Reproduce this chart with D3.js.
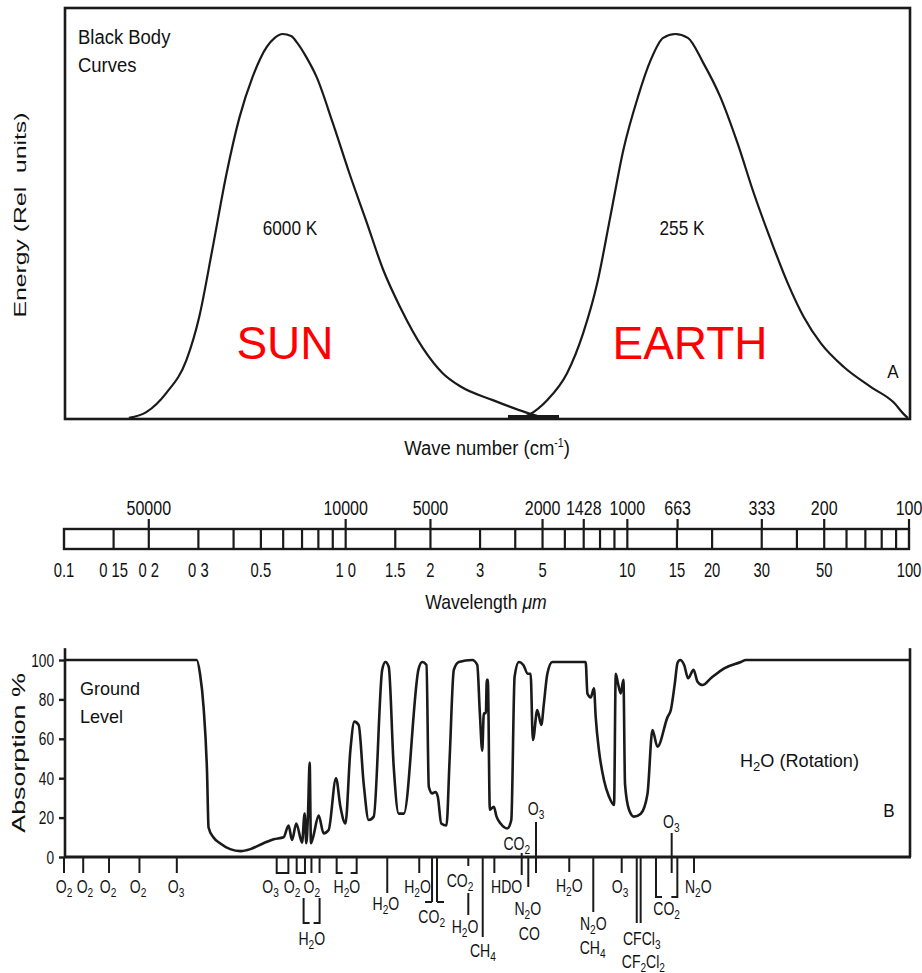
<!DOCTYPE html>
<html>
<head>
<meta charset="utf-8">
<script src="https://cdn.jsdelivr.net/npm/d3@7"></script>
<style>
  body { margin: 0; background: #fff; }
  svg text { font-family: "Liberation Sans", Arial, Helvetica, sans-serif; fill: #111; }
</style>
</head>
<body>
<svg id="chart" width="922" height="973"></svg>
<script>
// ---- data (wavelengths in micrometres) ----
// black body curves, relative energy (peak = 1)
var sunWl       = [0.170, 0.196, 0.231, 0.272, 0.302, 0.336, 0.378, 0.420, 0.467, 0.524, 0.560, 0.597, 0.640, 0.670, 0.725, 0.789, 0.900, 1.03, 1.19, 1.36, 1.56, 1.88, 2.21, 2.55, 3.33, 4.41, 5.0];
var sunEnergy   = [0.003, 0.018, 0.068, 0.153, 0.265, 0.439, 0.639, 0.784, 0.888, 0.966, 0.990, 1.000, 0.995, 0.979, 0.940, 0.888, 0.769, 0.639, 0.509, 0.387, 0.291, 0.184, 0.119, 0.085, 0.049, 0.016, 0.004];
var earthWl     = [4.1, 4.5, 5.19, 6.11, 6.97, 7.82, 8.70, 9.68, 10.9, 12.1, 13.4, 14.8, 16.4, 18.6, 21.4, 24.6, 28.1, 32.3, 37.1, 42.3, 48.6, 58.7, 73.3, 88.5, 96.0, 99.0];
var earthEnergy = [0, 0.012, 0.049, 0.119, 0.223, 0.353, 0.525, 0.699, 0.836, 0.932, 0.990, 1.000, 0.990, 0.925, 0.836, 0.717, 0.587, 0.465, 0.353, 0.265, 0.197, 0.135, 0.083, 0.042, 0.012, 0.003];
var overlapBand = [3.77, 5.72];

// scale bar
var wavenumberTicks = [50000, 10000, 5000, 2000, 1428, 1000, 663, 333, 200, 100];
var wlTickValues = [0.1, 0.15, 0.2, 0.3, 0.5, 1, 1.5, 2, 3, 5, 10, 15, 20, 30, 50, 100];
var wlTickLabels = ["0.1", "0 15", "0 2", "0 3", "0.5", "1 0", "1.5", "2", "3", "5", "10", "15", "20", "30", "50", "100"];
var wlDividers = [0.15, 0.2, 0.3, 0.4, 0.5, 0.6, 0.7, 0.8, 0.9, 1, 1.5, 2, 3, 4, 5, 6, 7, 8, 9, 10, 15, 20, 30, 40, 50, 60, 70, 80, 90];

// atmospheric absorption at ground level (%)
var absWl  = [0.1, 0.296, 0.304, 0.313, 0.322, 0.326, 0.339, 0.358, 0.389, 0.423, 0.459, 0.511, 0.555, 0.602, 0.627, 0.645, 0.668, 0.700, 0.715, 0.725, 0.735, 0.745, 0.753, 0.766, 0.802, 0.835, 0.870, 0.924, 0.958, 0.998, 1.039, 1.074, 1.112, 1.159, 1.207, 1.258, 1.348, 1.384, 1.422, 1.481, 1.543, 1.608, 1.817, 1.869, 1.936, 1.973, 2.028, 2.084, 2.124, 2.184, 2.28, 2.338, 2.421, 2.522, 2.814, 2.932, 2.995, 3.054, 3.094, 3.146, 3.17, 3.197, 3.250, 3.358, 3.433, 3.548, 3.748, 3.873, 3.979, 4.121, 4.272, 4.436, 4.535, 4.621, 4.790, 4.949, 5.056, 5.200, 5.416, 7.114, 7.215, 7.412, 7.614, 7.722, 7.932, 8.263, 8.610, 8.970, 9.097, 9.268, 9.474, 9.685, 9.813, 10.14, 10.56, 11.16, 11.79, 12.28, 12.79, 13.89, 14.27, 14.74, 15.07, 15.39, 15.91, 16.44, 17.18, 17.75, 18.49, 19.79, 22.07, 25.31, 26.37, 100];
var absPct = [100, 100, 93, 76, 43, 15, 10, 7, 4, 3, 4, 7, 9, 10, 16, 8.6, 17, 7.3, 22, 7, 22, 48, 7, 10, 21, 12, 13.7, 40, 25.5, 17, 54, 68.7, 67, 37, 18.8, 20.5, 95, 99, 96.6, 45.8, 22, 22, 95.8, 99, 97.5, 35.7, 32.3, 33, 30.6, 17, 16, 49, 95, 99, 100, 97.5, 73, 54, 73, 73, 90, 90, 24, 25.5, 20.5, 17, 14.5, 18.8, 91.5, 99, 97.5, 93, 93, 59.4, 74.6, 67, 78, 93, 99, 99, 83, 81, 85.6, 71, 54, 39, 30.6, 26.4, 93, 88, 83, 90, 37, 24, 20.5, 22, 32, 64.5, 56, 71, 74.6, 88, 98.5, 100, 97.5, 90.7, 95, 89, 87.3, 90.7, 95.8, 99, 100, 100];
var pctTicks = [0, 20, 40, 60, 80, 100];

// absorbing gases: [name, wavelength]
var gasNames = ["O2", "O2", "O2", "O2", "O3", "O3", "O2", "O2", "H2O", "H2O", "H2O", "H2O", "CO2", "CO2", "H2O", "CH4", "HDO", "CO2", "N2O", "CO", "O3", "H2O", "N2O", "CH4", "O3", "CFCl3", "CF2Cl2", "CO2", "O3", "N2O"];
var gasWl    = [0.1, 0.1187, 0.1433, 0.1831, 0.2498, 0.541, 0.645, 0.758, 0.758, 1.01, 1.39, 1.80, 2.02, 2.546, 2.652, 3.07, 3.73, 4.05, 4.43, 4.49, 4.74, 6.22, 7.57, 7.53, 9.42, 11.25, 11.4, 13.79, 14.33, 17.86];

// ---- layout ----
var svg = d3.select('#chart');
var x = d3.scaleLog().domain([0.1, 100]).range([64, 909]);
var yE = d3.scaleLinear().domain([0, 1]).range([419, 34]);
var yA = d3.scaleLinear().domain([0, 100]).range([857, 660]);
var ink = '#1a1a1a';

function label(px, py, str, o) {
  o = o || {};
  var size = o.size || 18,
      tr = 'translate(' + px + ',' + py + ')';
  if (o.rotate) tr += ' rotate(' + o.rotate + ')';
  tr += ' scale(' + (o.sx || 1) + ',1)';
  var t = svg.append('text')
    .attr('transform', tr)
    .attr('text-anchor', o.anchor || 'middle')
    .style('font-size', size + 'px')
    .style('white-space', 'pre');
  if (o.fill) t.style('fill', o.fill);
  if (o.chem) {
    var shift = 0;
    str.split(/(\d+)/).forEach(function(s) {
      if (!s) return;
      var isSub = /^\d+$/.test(s),
          dy = (isSub ? size * 0.22 : 0) - shift;
      shift += dy;
      t.append('tspan').attr('dy', dy)
        .style('font-size', isSub ? (size * 0.72) + 'px' : null)
        .text(s);
    });
  } else {
    t.text(str);
  }
  return t;
}

function vline(g, px, ya, yb, w) {
  g.append('line').attr('x1', px).attr('x2', px).attr('y1', ya).attr('y2', yb)
    .attr('stroke', ink).attr('stroke-width', w || 2);
}

// ---- panel A: black body curves ----
var gA = svg.append('g');
gA.append('rect')
  .attr('x', x(0.1) + 1).attr('y', 8)
  .attr('width', x(100) - x(0.1)).attr('height', yE(0) - 8)
  .attr('fill', 'none').attr('stroke', ink).attr('stroke-width', 2.6);

var energyLine = d3.line()
  .x(function(d) { return x(d[0]); })
  .y(function(d) { return yE(d[1]); })
  .curve(d3.curveMonotoneX);

[d3.zip(sunWl, sunEnergy), d3.zip(earthWl, earthEnergy)].forEach(function(series) {
  gA.append('path').datum(series).attr('d', energyLine)
    .attr('fill', 'none').attr('stroke', ink).attr('stroke-width', 2.2)
    .attr('stroke-linejoin', 'round');
});

gA.append('rect')
  .attr('x', x(overlapBand[0])).attr('y', yE(0) - 4)
  .attr('width', x(overlapBand[1]) - x(overlapBand[0])).attr('height', 4)
  .attr('fill', ink);

label(78, 44, 'Black Body', {size: 21, sx: 0.88, anchor: 'start'});
label(78, 72, 'Curves', {size: 21, sx: 0.88, anchor: 'start'});
label(290, 235, '6000 K', {size: 21, sx: 0.82});
label(682, 235, '255 K', {size: 21, sx: 0.82});
label(285, 359, 'SUN', {size: 46, fill: '#ff0000'});
label(690, 359, 'EARTH', {size: 46, fill: '#ff0000'});
label(893, 378, 'A', {size: 19, sx: 0.9});
label(26, 215, 'Energy (Rel  units)', {size: 16.5, sx: 1.5, rotate: -90});

var wn = svg.append('text')
  .attr('transform', 'translate(487,455) scale(0.88,1)')
  .attr('text-anchor', 'middle').style('font-size', '21px');
wn.append('tspan').text('Wave number (cm');
wn.append('tspan').attr('dy', -8).style('font-size', '12px').text('-1');
wn.append('tspan').attr('dy', 8).text(')');

// ---- scale bar ----
var gS = svg.append('g');
var barTop = 529, barBot = 549;
gS.append('rect')
  .attr('x', x(0.1)).attr('y', barTop)
  .attr('width', x(100) - x(0.1)).attr('height', barBot - barTop)
  .attr('fill', 'none').attr('stroke', ink).attr('stroke-width', 2.4);
wlDividers.forEach(function(v) { vline(gS, x(v), barTop, barBot, 2.2); });
wavenumberTicks.forEach(function(k) {
  var px = x(1e4 / k);
  vline(gS, px, barTop - 10, barTop, 2.2);
  label(px, 515, String(k), {size: 20, sx: 0.8});
});
wlTickValues.forEach(function(v, i) {
  label(x(v), 577, wlTickLabels[i], {size: 20, sx: 0.74});
});
var wlTitle = svg.append('text')
  .attr('transform', 'translate(486,609) scale(0.88,1)')
  .attr('text-anchor', 'middle').style('font-size', '20px');
wlTitle.append('tspan').text('Wavelength ');
wlTitle.append('tspan').style('font-style', 'italic').text('\u03bcm');

// ---- panel B: absorption ----
var gB = svg.append('g');
var absLine = d3.line()
  .x(function(d) { return x(d[0]); })
  .y(function(d) { return yA(d[1]); })
  .curve(d3.curveMonotoneX);
gB.append('path').datum(d3.zip(absWl, absPct)).attr('d', absLine)
  .attr('fill', 'none').attr('stroke', ink).attr('stroke-width', 2.6)
  .attr('stroke-linejoin', 'round');

// axes
vline(gB, x(0.1) + 1, yA(106), yA(0), 2.6);
vline(gB, x(100) + 1, yA(106), yA(0), 2.6);
gB.append('line')
  .attr('x1', x(0.1)).attr('x2', x(100) + 2).attr('y1', yA(0)).attr('y2', yA(0))
  .attr('stroke', ink).attr('stroke-width', 3);

var yAxis = gB.append('g')
  .attr('transform', 'translate(' + (x(0.1) + 1) + ',0)')
  .call(d3.axisLeft(yA).tickValues(pctTicks).tickSize(6).tickPadding(4).tickSizeOuter(0));
yAxis.select('.domain').remove();
yAxis.selectAll('line').attr('stroke', ink).attr('stroke-width', 2.4);
yAxis.selectAll('text')
  .attr('x', -11 / 0.72)
  .attr('transform', 'scale(0.72,1)')
  .style('font-size', '19px');

label(25, 753, 'Absorption %', {size: 18.5, sx: 1.45, rotate: -90});
label(80, 695, 'Ground', {size: 19, sx: 0.95, anchor: 'start'});
label(80, 723, 'Level', {size: 19, sx: 0.95, anchor: 'start'});
var rot = label(740, 767, 'H2O (Rotation)', {size: 18.5, sx: 0.98, anchor: 'start', chem: true});
label(889, 817, 'B', {size: 19, sx: 0.9});

// gas band markers: lines [wavelength, from, to] in px below the axis
var y0 = yA(0);
var markLines = [
  [0.1, 0, 16], [0.117, 0, 16], [0.1445, 0, 16], [0.1853, 0, 16], [0.2515, 0, 16],
  [0.756, 0, 16], [0.808, 0, 16], [1.405, 0, 36], [1.825, 0, 16],
  [2.026, 0, 45], [2.110, 0, 45], [2.725, 0, 9], [2.725, 36, 58],
  [3.066, 0, 80], [3.372, 0, 16], [4.217, -4, 18], [4.45, 0, 30], [4.74, -35, 16],
  [6.22, 0, 15], [7.57, 0, 55], [9.55, 0, 16], [10.80, 0, 66], [11.15, 0, 66],
  [14.37, -24, 16], [17.25, 0, 16]
];
// brackets [wl1, wl2, from, to]
var markBrackets = [
  [0.569, 0.626, 0, 16], [0.670, 0.717, 0, 16], [0.709, 0.808, 41, 66],
  [0.929, 1.094, 0, 16], [12.64, 15.05, 0, 40]
];
// outward feet [wl, at, dx]
var markFeet = [[2.026, 45, -7], [2.110, 45, 7]];
// label baselines (px from axis), one per gas
var gasRows = [36, 36, 36, 36, 36, 36, 36, 36, 88, 36, 53, 36, 66, 30, 76, 100, 36, -7, 58, 83, -42, 35, 73, 97, 36, 88, 111, 58, -29, 36];

var gM = svg.append('g');
markLines.forEach(function(m) { vline(gM, x(m[0]), y0 + m[1], y0 + m[2], 2); });
markBrackets.forEach(function(b) {
  var xa = x(b[0]), xb = x(b[1]), foot = Math.min(6, (xb - xa) / 2),
      yb = y0 + b[3];
  gM.append('path')
    .attr('d', 'M' + xa + ',' + (y0 + b[2]) + 'V' + yb + 'H' + (xa + foot) +
               'M' + xb + ',' + (y0 + b[2]) + 'V' + yb + 'H' + (xb - foot))
    .attr('fill', 'none').attr('stroke', ink).attr('stroke-width', 2);
});
markFeet.forEach(function(f) {
  gM.append('line').attr('x1', x(f[0])).attr('x2', x(f[0]) + f[2])
    .attr('y1', y0 + f[1]).attr('y2', y0 + f[1])
    .attr('stroke', ink).attr('stroke-width', 2);
});
gasNames.forEach(function(n, i) {
  label(x(gasWl[i]), y0 + gasRows[i], n, {size: 18, sx: 0.78, chem: true});
});
</script>
</body>
</html>
